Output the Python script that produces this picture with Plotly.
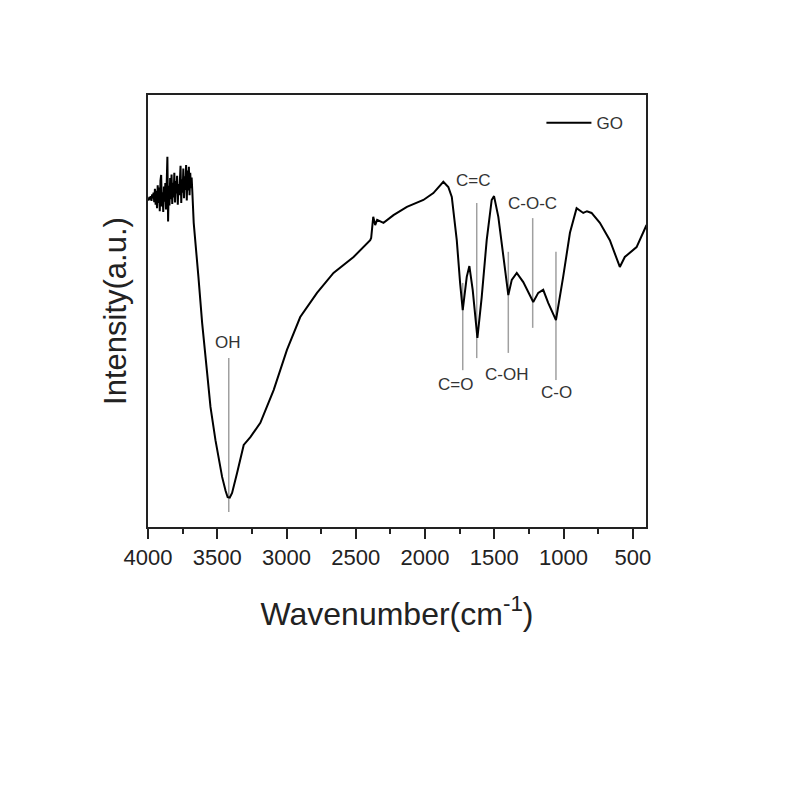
import plotly.graph_objects as go

# FTIR spectrum of GO
# noisy start of the spectrum (4000-3680 cm-1)
noise_wn = [4000, 3995, 3990, 3985, 3980, 3975, 3970, 3965, 3960, 3955,
            3950, 3945, 3940, 3935, 3930, 3925, 3920, 3915, 3910, 3905,
            3900, 3895, 3890, 3885, 3880, 3875, 3870, 3865, 3860, 3855,
            3850, 3845, 3840, 3835, 3830, 3825, 3820, 3815, 3810, 3805,
            3800, 3795, 3790, 3785, 3780, 3775, 3770, 3765, 3760, 3755,
            3750, 3745, 3740, 3735, 3730, 3725, 3720, 3715, 3710, 3705,
            3700, 3695, 3690, 3685, 3680]
noise_int = [76.0, 75.6, 76.4, 75.8, 76.6, 75.5, 77.0, 76.1, 77.4, 75.2,
             78.3, 74.6, 77.8, 73.8, 79.1, 75.0, 78.6, 73.1, 80.2, 81.5,
             74.2, 77.5, 72.9, 78.8, 75.3, 79.6, 73.5, 80.4, 85.7, 70.7,
             79.0, 74.4, 80.8, 75.9, 81.6, 74.8, 79.7, 76.3, 82.0, 75.1,
             80.1, 77.2, 81.3, 74.6, 79.4, 76.8, 82.4, 83.6, 75.0, 80.5,
             77.4, 83.0, 76.1, 81.2, 78.0, 83.8, 75.6, 82.5, 77.9, 83.4,
             76.8, 82.0, 78.4, 80.9, 77.6]

# rest of the spectrum
main_wn = [3670, 3636, 3609, 3573, 3549, 3513, 3465, 3440, 3425, 3410,
           3393, 3357, 3330, 3309, 3261, 3189, 3093, 2997, 2901, 2780,
           2661, 2516, 2396, 2389, 2374, 2360, 2346, 2300, 2228, 2131,
           2012, 1940, 1868, 1832, 1807, 1771, 1747, 1728, 1699, 1680,
           1656, 1622, 1591, 1555, 1519, 1502, 1471, 1435, 1399, 1374,
           1338, 1291, 1219, 1183, 1147, 1111, 1055, 1003, 954, 906,
           858, 831, 798, 738, 666, 594, 558, 473, 401]
main_int = [70.4, 57.9, 47.2, 35.6, 27.8, 20.1, 11.6, 8.4, 6.9, 6.8,
            7.9, 12.5, 16.6, 19.0, 20.8, 24.1, 31.7, 41.0, 48.6, 54.2,
            58.8, 62.5, 66.4, 66.9, 71.8, 69.9, 71.1, 70.4, 72.2, 74.1,
            75.7, 77.3, 79.9, 78.7, 76.4, 66.4, 56.5, 50.2, 57.9, 60.4,
            54.9, 43.8, 53.2, 66.4, 75.7, 76.6, 71.8, 62.5, 53.7, 57.2,
            58.8, 56.7, 52.1, 54.2, 54.9, 51.9, 47.9, 57.9, 68.1, 73.8,
            72.7, 73.1, 72.7, 70.4, 66.4, 60.2, 62.5, 64.8, 69.9]

wavenumber = noise_wn + main_wn
intensity = noise_int + main_int

# band assignments: marker line position, extent and label position
band_names = ['OH', 'C=O', 'C=C', 'C-OH', 'C-O-C', 'C-O']
band_wn = [3417, 1728, 1627, 1399, 1223, 1055]
band_top = [39.1, 56.5, 75.0, 63.7, 71.5, 63.7]
band_bottom = [3.5, 36.3, 39.1, 40.3, 46.1, 34.0]
label_wn = [3425, 1782, 1653, 1409, 1221, 1048]
label_int = [42.6, 32.9, 80.3, 35.2, 75.0, 31.2]

fig = go.Figure()

# thin grey marker lines under the curve
for wn, top, bottom in zip(band_wn, band_top, band_bottom):
    fig.add_trace(go.Scatter(
        x=[wn, wn], y=[bottom, top], mode='lines',
        line=dict(color='#a0a0a0', width=1.5),
        showlegend=False, hoverinfo='skip'))

fig.add_trace(go.Scatter(
    x=wavenumber, y=intensity, mode='lines', name='GO',
    line=dict(color='black', width=2)))

for name, wn, y in zip(band_names, label_wn, label_int):
    fig.add_annotation(x=wn, y=y, text=name, showarrow=False,
                       font=dict(size=17, color='#333333'))

fig.update_layout(
    width=800, height=800,
    margin=dict(l=140, r=162, t=87, b=281),
    paper_bgcolor='white', plot_bgcolor='white',
    font=dict(family='Liberation Sans, Arial, sans-serif', color='#222222'),
    showlegend=True,
    legend=dict(x=0.79, y=0.935, xanchor='left', yanchor='middle',
                bgcolor='rgba(0,0,0,0)', font=dict(size=17, color='#333333'),
                itemwidth=45),
)

fig.update_xaxes(
    range=[4000, 405], tickvals=[4000, 3500, 3000, 2500, 2000, 1500, 1000, 500],
    ticks='outside', ticklen=10, tickwidth=1.5, tickcolor='#222222',
    minor=dict(dtick=250, ticks='outside', ticklen=5, tickwidth=1.5, tickcolor='#222222'),
    tickfont=dict(size=22, color='#222222'),
    showline=True, linecolor='#222222', linewidth=1.5, mirror=True,
    showgrid=False, zeroline=False,
    title=dict(text='Wavenumber(cm<sup>-1</sup>)', font=dict(size=32, color='#222222'),
               standoff=33),
)

fig.update_yaxes(
    range=[0, 100], showticklabels=False, ticks='',
    showline=True, linecolor='#222222', linewidth=1.5, mirror=True,
    showgrid=False, zeroline=False,
    title=dict(text='Intensity(a.u.)', font=dict(size=31, color='#222222'),
               standoff=10),
)

fig.write_html('out.html')
